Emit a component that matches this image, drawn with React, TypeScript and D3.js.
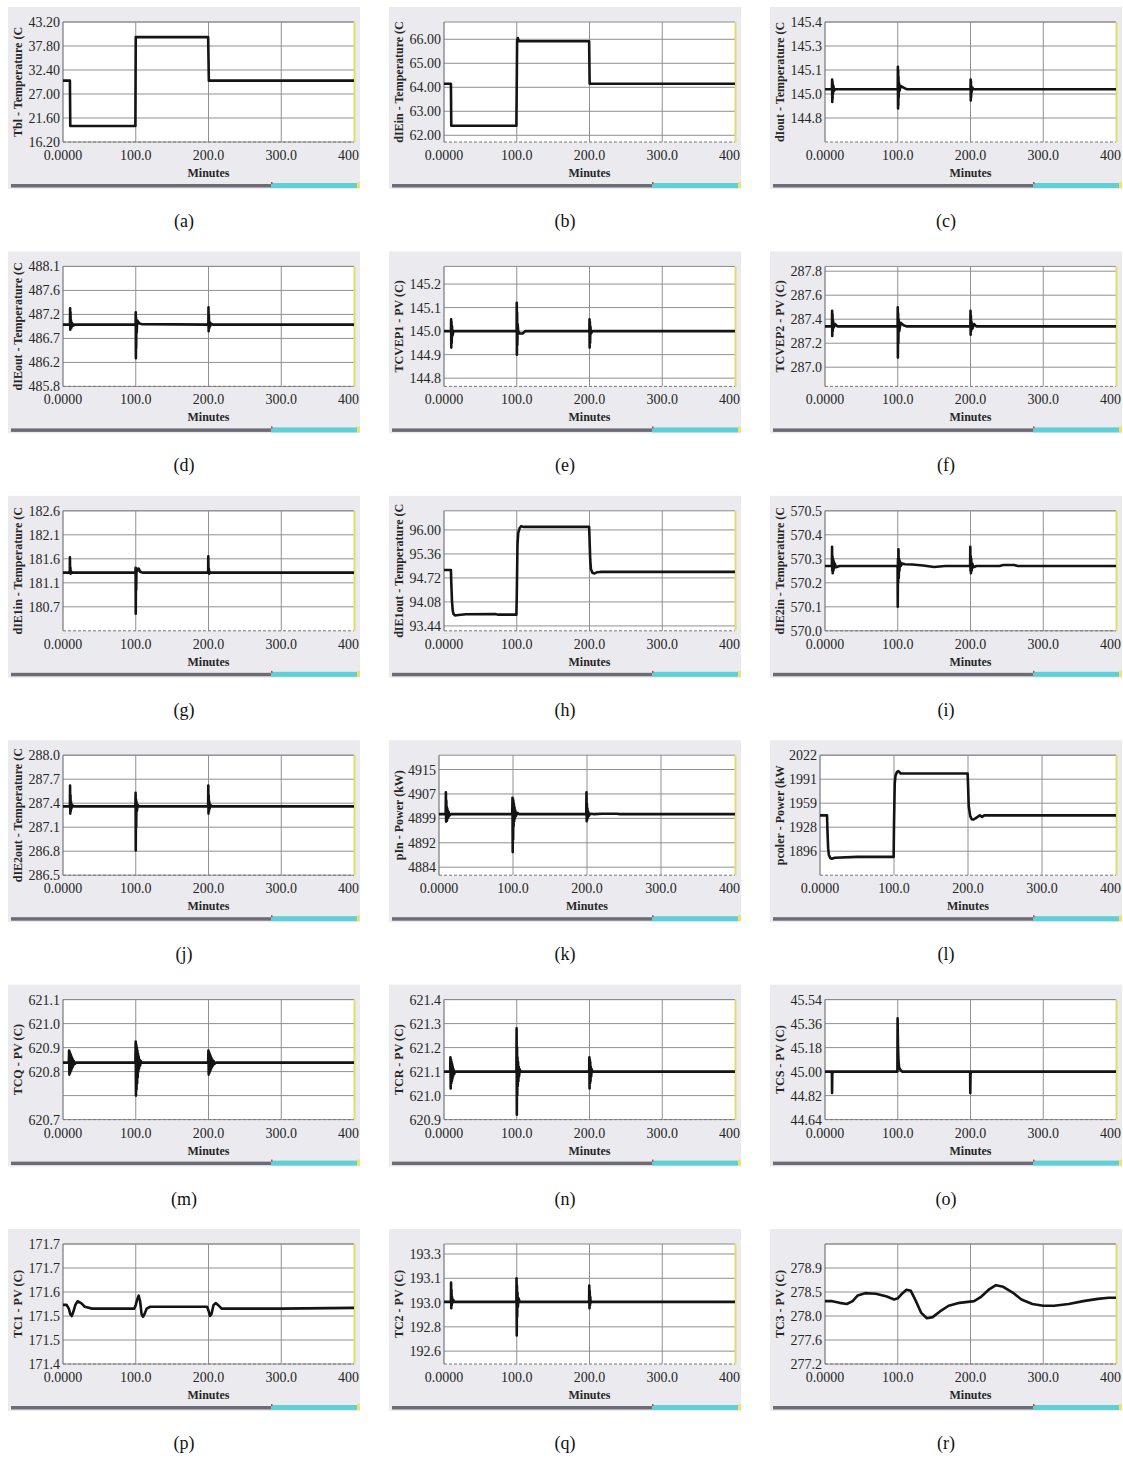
import React from "react";
import * as d3 from "d3";

type Pt = [number, number];

const captions = ["(a)", "(b)", "(c)", "(d)", "(e)", "(f)", "(g)", "(h)", "(i)", "(j)", "(k)", "(l)", "(m)", "(n)", "(o)", "(p)", "(q)", "(r)"];

const xTickValues = [0, 100, 200, 300, 400];
const xTickLabels = ["0.0000", "100.0", "200.0", "300.0", "400"];
const xTitle = "Minutes";

const yTitles = [
  "Tbl - Temperature (C",
  "dIEin - Temperature (C",
  "dIout - Temperature (C",
  "dIEout - Temperature (C",
  "TCVEP1 - PV (C)",
  "TCVEP2 - PV (C)",
  "dIE1in - Temperature (C",
  "dIE1out - Temperature (C",
  "dIE2in - Temperature (C",
  "dIE2out - Temperature (C",
  "pIn - Power (kW)",
  "pcoler - Power (kW",
  "TCQ - PV (C)",
  "TCR - PV (C)",
  "TCS - PV (C)",
  "TC1 - PV (C)",
  "TC2 - PV (C)",
  "TC3 - PV (C)",
];

const yDomains: [number, number][] = [
  [16.2, 43.2],
  [61.72, 66.72],
  [144.65, 145.4],
  [485.75, 488.1],
  [144.765, 145.275],
  [286.84, 287.84],
  [180.175, 182.6],
  [93.31, 96.51],
  [570.0, 570.5],
  [286.5, 288.0],
  [4881.98, 4918.95],
  [1864.5, 2022],
  [620.7, 621.1],
  [620.9, 621.4],
  [44.64, 45.54],
  [171.4, 171.725],
  [192.53, 193.37],
  [277.2, 279.3],
];

const yTickValues: number[][] = [
  [43.2, 37.8, 32.4, 27.0, 21.6, 16.2],
  [66, 65, 64, 63, 62],
  [145.4, 145.25, 145.1, 144.95, 144.8],
  [488.1, 487.63, 487.16, 486.69, 486.22, 485.75],
  [145.2, 145.1, 145.0, 144.9, 144.8],
  [287.8, 287.6, 287.4, 287.2, 287.0],
  [182.6, 182.115, 181.63, 181.145, 180.66],
  [96.0, 95.36, 94.72, 94.08, 93.44],
  [570.5, 570.4, 570.3, 570.2, 570.1, 570.0],
  [288.0, 287.7, 287.4, 287.1, 286.8, 286.5],
  [4914.53, 4907.01, 4899.49, 4891.97, 4884.45],
  [2022, 1990.5, 1959, 1927.5, 1896],
  [621.1, 621.02, 620.94, 620.86, 620.78, 620.7],
  [621.4, 621.3, 621.2, 621.1, 621.0, 620.9],
  [45.54, 45.36, 45.18, 45.0, 44.82, 44.64],
  [171.725, 171.66, 171.595, 171.53, 171.465, 171.4],
  [193.3, 193.13, 192.96, 192.79, 192.62],
  [279.3, 278.88, 278.46, 278.04, 277.62, 277.2],
];

const yTickLabels: string[][] = [
  ["43.20", "37.80", "32.40", "27.00", "21.60", "16.20"],
  ["66.00", "65.00", "64.00", "63.00", "62.00"],
  ["145.4", "145.3", "145.1", "145.0", "144.8"],
  ["488.1", "487.6", "487.2", "486.7", "486.2", "485.8"],
  ["145.2", "145.1", "145.0", "144.9", "144.8"],
  ["287.8", "287.6", "287.4", "287.2", "287.0"],
  ["182.6", "182.1", "181.6", "181.1", "180.7"],
  ["96.00", "95.36", "94.72", "94.08", "93.44"],
  ["570.5", "570.4", "570.3", "570.2", "570.1", "570.0"],
  ["288.0", "287.7", "287.4", "287.1", "286.8", "286.5"],
  ["4915", "4907", "4899", "4892", "4884"],
  ["2022", "1991", "1959", "1928", "1896"],
  ["621.1", "621.0", "620.9", "620.8", "", "620.7"],
  ["621.4", "621.3", "621.2", "621.1", "621.0", "620.9"],
  ["45.54", "45.36", "45.18", "45.00", "44.82", "44.64"],
  ["171.7", "171.7", "171.6", "171.5", "171.5", "171.4"],
  ["193.3", "193.1", "193.0", "192.8", "192.6"],
  ["", "278.9", "278.5", "278.0", "277.6", "277.2"],
];

const seriesA: Pt[] = [[0, 30], [9.5, 30], [10, 19.8], [99.5, 19.8], [100, 39.8], [199.5, 39.8], [200.5, 30], [400, 30]];

const seriesB: Pt[] = [[0, 64.15], [9.5, 64.15], [10, 62.4], [99.5, 62.4], [100.5, 65.95], [101.5, 66.05], [103, 65.92], [199.5, 65.92], [200.2, 64.15], [400, 64.15]];

const seriesC: Pt[] = [
  [0, 144.98], [9.6, 144.98], [9.8, 145.04], [10, 144.9], [10.2, 145.03], [10.4, 144.92], [10.7, 145.01], [11, 144.95], [11.5, 145.0], [12.5, 144.97], [14, 144.98],
  [100, 144.98], [100.2, 145.12], [100.4, 144.86], [100.6, 145.1], [100.8, 144.88], [101, 145.06], [101.3, 144.93], [101.7, 145.02], [102.5, 144.97], [104, 145.0], [108, 144.99], [112, 144.98],
  [200, 144.98], [200.2, 145.04], [200.4, 144.91], [200.6, 145.03], [200.8, 144.93], [201.1, 145.0], [201.5, 144.96], [202.5, 144.99], [204, 144.98], [400, 144.98],
];

const seriesD: Pt[] = [
  [0, 486.96], [9.6, 486.96], [9.8, 487.28], [10, 486.86], [10.3, 487.2], [10.6, 486.9], [11, 487.05], [11.5, 486.9], [12.5, 486.99], [14, 486.94], [16, 486.96],
  [99.8, 486.96], [100, 487.2], [100.2, 486.3], [100.4, 487.1], [100.6, 486.5], [100.9, 487.05], [101.3, 486.8], [102, 487.04], [103, 487.02], [105, 486.98], [108, 486.97],
  [199.8, 486.96], [200, 487.3], [200.2, 486.83], [200.5, 487.15], [200.8, 486.88], [201.2, 487.02], [202, 486.92], [203.5, 486.98], [206, 486.96], [400, 486.96],
];

const seriesE: Pt[] = [
  [0, 145.0], [9.6, 145.0], [9.8, 145.05], [10, 144.93], [10.3, 145.04], [10.6, 144.95], [11, 145.02], [11.6, 144.98], [13, 145.0],
  [99.8, 145.0], [100, 145.12], [100.2, 144.9], [100.5, 145.08], [100.8, 144.94], [101.2, 145.03], [102, 145.0], [104, 144.99], [108, 144.99], [112, 145.0],
  [199.8, 145.0], [200, 145.05], [200.2, 144.93], [200.5, 145.04], [200.8, 144.95], [201.2, 145.02], [202, 144.99], [204, 145.0], [400, 145.0],
];

const seriesF: Pt[] = [
  [0, 287.34], [9.6, 287.34], [9.8, 287.47], [10, 287.26], [10.3, 287.44], [10.6, 287.3], [11, 287.39], [12, 287.33], [14, 287.36], [17, 287.34],
  [99.8, 287.34], [100, 287.5], [100.2, 287.08], [100.5, 287.45], [100.8, 287.2], [101.2, 287.4], [102, 287.3], [104, 287.37], [108, 287.35], [112, 287.34],
  [199.8, 287.34], [200, 287.47], [200.2, 287.27], [200.5, 287.43], [200.8, 287.3], [201.3, 287.38], [202.5, 287.32], [205, 287.36], [208, 287.34], [400, 287.34],
];

const seriesG: Pt[] = [
  [0, 181.35], [9.3, 181.35], [9.5, 181.66], [9.8, 181.38], [10.2, 181.45], [10.6, 181.33], [11.5, 181.37], [13, 181.35],
  [99.5, 181.35], [99.8, 181.45], [100, 180.52], [100.3, 181.4], [100.6, 181.0], [101, 181.44], [102, 181.38], [104, 181.43], [106, 181.37], [110, 181.35],
  [199.5, 181.35], [199.7, 181.68], [200, 181.38], [200.5, 181.43], [201, 181.33], [202, 181.36], [204, 181.35], [400, 181.35],
];

const seriesH: Pt[] = [
  [0, 94.93], [9.5, 94.93], [10, 94.6], [11, 94.1], [12, 93.85], [13, 93.76], [15, 93.72], [20, 93.73], [30, 93.75], [70, 93.76], [75, 93.74], [99.5, 93.74],
  [100, 94.2], [101, 95.6], [102, 95.92], [104, 96.05], [106, 96.1], [110, 96.08], [199.5, 96.08],
  [200, 95.8], [201, 95.2], [202, 94.95], [204, 94.86], [207, 94.84], [210, 94.87], [215, 94.88], [400, 94.88],
];

const seriesI: Pt[] = [
  [0, 570.27], [9.5, 570.27], [9.7, 570.35], [10, 570.25], [10.3, 570.31], [10.6, 570.24], [11, 570.3], [11.5, 570.25], [12, 570.29], [12.5, 570.26], [13.5, 570.28], [15, 570.265], [20, 570.27],
  [99.5, 570.27], [99.8, 570.26], [100, 570.1], [100.3, 570.3], [100.6, 570.2], [101, 570.34], [101.4, 570.22], [101.8, 570.3], [102.3, 570.25], [103, 570.29], [104, 570.27], [106, 570.28], [110, 570.277], [120, 570.276], [135, 570.272], [150, 570.266], [165, 570.27],
  [199.5, 570.27], [199.7, 570.35], [200, 570.25], [200.3, 570.31], [200.6, 570.24], [201, 570.3], [201.5, 570.25], [202.5, 570.28], [204, 570.265], [208, 570.27], [240, 570.27], [245, 570.274], [260, 570.274], [265, 570.27], [400, 570.27],
];

const seriesJ: Pt[] = [
  [0, 287.36], [9.5, 287.36], [9.7, 287.62], [10, 287.27], [10.3, 287.5], [10.6, 287.3], [11, 287.42], [11.5, 287.33], [12.5, 287.38], [14, 287.36],
  [99.5, 287.36], [99.8, 287.53], [100, 286.81], [100.3, 287.45], [100.6, 287.1], [101, 287.42], [101.5, 287.3], [102.5, 287.38], [104, 287.36],
  [199.5, 287.36], [199.7, 287.62], [200, 287.27], [200.3, 287.5], [200.6, 287.3], [201, 287.42], [201.5, 287.33], [202.5, 287.38], [204, 287.36], [400, 287.36],
];

const seriesK: Pt[] = [
  [0, 4900.8], [9, 4900.8], [9.3, 4907.5], [9.6, 4898.5], [9.9, 4905], [10.2, 4899], [10.5, 4903], [10.8, 4898.8], [11.2, 4902.5], [11.6, 4899.5], [12, 4901.8], [12.5, 4899.8], [13, 4901.5], [14, 4900.3], [16, 4900.8],
  [99, 4900.8], [99.3, 4905.8], [99.6, 4889.1], [99.9, 4905.5], [100.2, 4893], [100.5, 4905], [100.8, 4897], [101.2, 4904], [101.6, 4898.5], [102, 4903], [102.5, 4899.5], [103, 4902], [104, 4900.2], [106, 4901.2], [108, 4900.8],
  [199, 4900.8], [199.3, 4907.5], [199.6, 4898.6], [199.9, 4904], [200.2, 4899], [200.6, 4902.5], [201, 4899.6], [201.5, 4901.6], [202.5, 4900.3], [204, 4900.9], [210, 4900.8], [220, 4900.9], [240, 4900.9], [245, 4900.8], [400, 4900.8],
];

const seriesL: Pt[] = [
  [0, 1943], [9.5, 1943], [10, 1925], [11, 1900], [12, 1891], [14, 1887], [16, 1886], [20, 1887.5], [50, 1888.5], [99.5, 1888.5],
  [100, 1930], [101, 1985], [102, 1995], [104, 2000], [106, 2001], [109, 1998], [199.5, 1998],
  [200, 1985], [201, 1955], [203, 1942], [205, 1938], [207, 1937.5], [210, 1939], [213, 1941], [216, 1943], [219, 1941], [222, 1943], [400, 1943],
];

const seriesM: Pt[] = [
  [0, 620.89], [8, 620.89], [8.4, 620.93], [8.8, 620.85], [9.2, 620.925], [9.6, 620.855], [10, 620.92], [10.4, 620.86], [10.8, 620.915], [11.2, 620.865], [11.6, 620.91], [12, 620.87], [12.5, 620.905], [13, 620.875], [13.5, 620.9], [14, 620.88], [15, 620.895], [16, 620.885], [18, 620.89],
  [99.5, 620.89], [99.9, 620.96], [100.3, 620.78], [100.7, 620.95], [101.1, 620.8], [101.5, 620.94], [101.9, 620.82], [102.3, 620.93], [102.7, 620.84], [103.1, 620.92], [103.5, 620.86], [104, 620.91], [104.5, 620.87], [105, 620.9], [106, 620.88], [107, 620.895], [108, 620.89],
  [199.5, 620.89], [199.9, 620.93], [200.3, 620.85], [200.7, 620.925], [201.1, 620.855], [201.5, 620.92], [201.9, 620.86], [202.3, 620.915], [202.7, 620.865], [203.1, 620.91], [203.5, 620.87], [204, 620.905], [204.5, 620.875], [205, 620.9], [206, 620.88], [207, 620.895], [208, 620.885], [210, 620.89], [400, 620.89],
];

const seriesN: Pt[] = [
  [0, 621.1], [8.5, 621.1], [8.8, 621.16], [9.2, 621.03], [9.6, 621.15], [10, 621.05], [10.4, 621.14], [10.8, 621.06], [11.2, 621.13], [11.6, 621.07], [12, 621.12], [12.5, 621.08], [13, 621.11], [14, 621.09], [15, 621.1],
  [99.5, 621.1], [99.8, 621.28], [100.1, 620.92], [100.4, 621.2], [100.7, 621.0], [101, 621.16], [101.4, 621.04], [101.8, 621.14], [102.2, 621.06], [102.7, 621.12], [103.2, 621.08], [104, 621.11], [105, 621.1],
  [199.5, 621.1], [199.8, 621.16], [200.1, 621.03], [200.4, 621.15], [200.7, 621.05], [201, 621.14], [201.4, 621.06], [201.8, 621.12], [202.3, 621.08], [203, 621.11], [204, 621.1], [400, 621.1],
];

const seriesO: Pt[] = [
  [0, 45.0], [9.5, 45.0], [9.7, 44.84], [10, 44.98], [11, 45.0],
  [99.5, 45.0], [99.8, 45.4], [100.3, 45.2], [101, 45.08], [102, 45.03], [104, 45.01], [106, 45.0],
  [199.5, 45.0], [199.7, 44.84], [200, 44.98], [201, 45.0], [400, 45.0],
];

const seriesP: Pt[] = [
  [0, 171.56], [5, 171.56], [8, 171.55], [10, 171.535], [12, 171.53], [14, 171.54], [17, 171.56], [20, 171.57], [25, 171.565], [30, 171.555], [40, 171.55], [98, 171.55],
  [100, 171.56], [102, 171.575], [104, 171.585], [106, 171.57], [108, 171.535], [110, 171.528], [112, 171.535], [115, 171.55], [120, 171.555], [198, 171.555],
  [200, 171.545], [202, 171.53], [204, 171.535], [207, 171.56], [210, 171.565], [213, 171.56], [218, 171.55], [300, 171.55], [400, 171.552],
];

const seriesQ: Pt[] = [
  [0, 192.965], [9.5, 192.965], [9.7, 193.1], [10, 192.92], [10.3, 193.05], [10.6, 192.94], [11, 193.0], [11.5, 192.96], [12.5, 192.98], [14, 192.965],
  [99.5, 192.965], [99.7, 193.13], [100, 192.73], [100.3, 193.08], [100.6, 192.86], [101, 193.03], [101.5, 192.93], [102.5, 192.99], [104, 192.965],
  [199.5, 192.965], [199.7, 193.08], [200, 192.92], [200.3, 193.04], [200.6, 192.94], [201, 193.0], [201.6, 192.96], [203, 192.965], [400, 192.965],
];

const seriesR: Pt[] = [
  [0, 278.3], [10, 278.3], [20, 278.27], [30, 278.25], [38, 278.3], [45, 278.4], [55, 278.44], [70, 278.43], [85, 278.38], [95, 278.33],
  [100, 278.35], [105, 278.42], [112, 278.5], [118, 278.48], [125, 278.3], [132, 278.1], [140, 278.0], [148, 278.02], [158, 278.12], [170, 278.22], [185, 278.27],
  [205, 278.3], [215, 278.38], [225, 278.5], [235, 278.58], [245, 278.55], [258, 278.45], [270, 278.33], [285, 278.25], [300, 278.22], [315, 278.22], [335, 278.25], [355, 278.3], [375, 278.34], [390, 278.36], [400, 278.36],
];

const allSeries: Pt[][] = [seriesA, seriesB, seriesC, seriesD, seriesE, seriesF, seriesG, seriesH, seriesI, seriesJ, seriesK, seriesL, seriesM, seriesN, seriesO, seriesP, seriesQ, seriesR];

const colX = [8, 389, 770];
const rowY = [7, 251.4, 495.8, 740.2, 984.6, 1229];
const PW = 352;
const PH = 182;
const FONT = "'Liberation Serif', 'Times New Roman', serif";

function Panel({ idx }: { idx: number }) {
  const col = idx % 3;
  const row = Math.floor(idx / 3);
  const L = idx === 10 || idx === 11 ? 50 : 55;
  const R = 346;
  const T = 15;
  const B = 135;
  const x = d3.scaleLinear().domain([0, 400]).range([L, R]);
  const y = d3.scaleLinear().domain(yDomains[idx]).range([B, T]);
  const line = d3.line<Pt>().x((d) => x(d[0])).y((d) => y(d[1]));
  const clipId = `panelclip${idx}`;
  const plotClipId = `plotclip${idx}`;
  const last = xTickValues.length - 1;
  return (
    <g transform={`translate(${colX[col]},${rowY[row]})`}>
      <defs>
        <clipPath id={clipId}>
          <rect x={0} y={0} width={PW} height={PH} />
        </clipPath>
        <clipPath id={plotClipId}>
          <rect x={L} y={T - 4} width={R - L} height={B - T + 8} />
        </clipPath>
      </defs>
      <rect x={0} y={0} width={PW} height={PH} fill="#ebebef" />
      <g clipPath={`url(#${clipId})`}>
        <rect x={L} y={T} width={R - L} height={B - T} fill="#ffffff" />
        {yTickValues[idx].map((v, i) => (
          <line key={`h${i}`} x1={L} x2={R} y1={y(v)} y2={y(v)} stroke="#909090" strokeWidth={1} />
        ))}
        {xTickValues.slice(1, last).map((t) => (
          <line key={`v${t}`} x1={x(t)} x2={x(t)} y1={T} y2={B} stroke="#909090" strokeWidth={1} />
        ))}
        <line x1={L} x2={R} y1={T} y2={T} stroke="#8a8a8a" strokeWidth={1} />
        <line x1={L} x2={L} y1={T} y2={B} stroke="#777" strokeWidth={1.2} />
        <line x1={L} x2={R} y1={B} y2={B} stroke="#777" strokeWidth={1} strokeDasharray="3,2" />
        <line x1={R + 0.5} x2={R + 0.5} y1={T} y2={B} stroke="#e2dc6a" strokeWidth={2} />
        <path d={line(allSeries[idx]) || ""} fill="none" stroke="#141414" strokeWidth={2.6} strokeLinejoin="round" clipPath={`url(#${plotClipId})`} />
        {yTickValues[idx].map((v, i) => (
          <text key={`yl${i}`} x={L - 3} y={y(v) + 5} textAnchor="end" fontFamily={FONT} fontSize={14} fill="#262626">
            {yTickLabels[idx][i]}
          </text>
        ))}
        {xTickValues.map((t, i) => (
          <text
            key={`xl${i}`}
            x={i === last ? PW - 1 : x(t)}
            y={153}
            textAnchor={i === last ? "end" : "middle"}
            fontFamily={FONT}
            fontSize={14}
            fill="#262626"
          >
            {xTickLabels[i]}
          </text>
        ))}
        <text x={(L + R) / 2} y={170} textAnchor="middle" fontFamily={FONT} fontSize={12} fontWeight="bold" fill="#262626">
          {xTitle}
        </text>
        <text transform={`translate(10,${(T + B) / 2}) rotate(-90)`} textAnchor="middle" dominantBaseline="central" fontFamily={FONT} fontSize={12} fontWeight="bold" fill="#262626">
          {yTitles[idx]}
        </text>
        <rect x={3} y={177} width={260} height={3.5} fill="#6c6c76" />
        <rect x={263} y={176} width={86} height={5} fill="#5fcfd8" />
        <rect x={349} y={175} width={3} height={6} fill="#efe36a" />
        <rect x={263} y={175} width={1.5} height={2} fill="#d04040" />
      </g>
      <text x={PW / 2} y={220} textAnchor="middle" fontFamily={FONT} fontSize={18} fill="#111">
        {captions[idx]}
      </text>
    </g>
  );
}

export default function App() {
  return (
    <svg width={1123} height={1459} style={{ position: "absolute", left: 0, top: 0, background: "#fff" }}>
      <rect x={0} y={0} width={1123} height={1459} fill="#ffffff" />
      {captions.map((_, i) => (
        <Panel key={i} idx={i} />
      ))}
    </svg>
  );
}
